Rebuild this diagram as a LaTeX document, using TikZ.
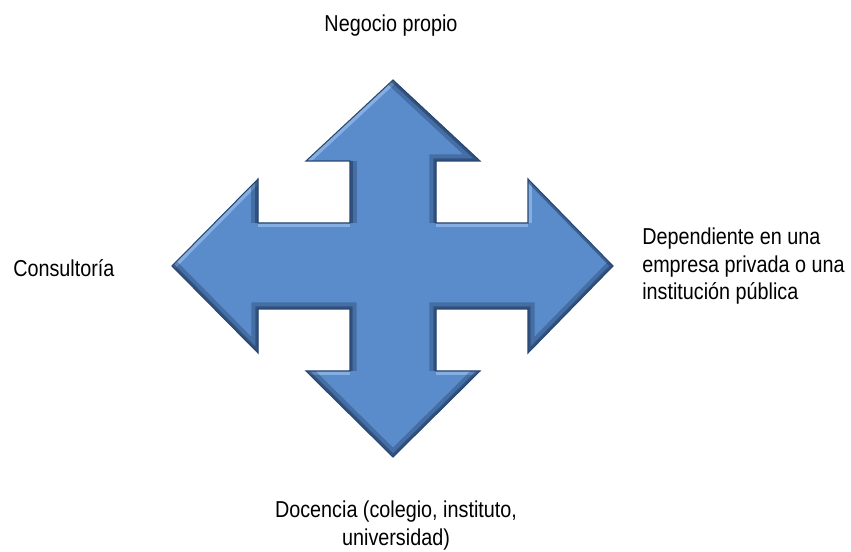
\documentclass[tikz,border=0pt]{standalone}
\usepackage{fontspec}
\setmainfont{Liberation Sans}[FakeStretch=0.86]
\usepackage{tikz}

\tikzset{
  arrowfill/.style={fill={rgb,255:red,90;green,140;blue,203}},
  bevdark/.style={draw={rgb,255:red,30;green,55;blue,95},line width=10,draw opacity=0.35,line join=miter},
  bevdeep/.style={draw={rgb,255:red,30;green,55;blue,95},line width=4,draw opacity=0.5,line join=miter},
  bevlight/.style={draw={rgb,255:red,170;green,205;blue,245},line width=6,draw opacity=0.55},
  rimline/.style={draw={rgb,255:red,40;green,70;blue,112},line width=0.8},
  labeltext/.style={inner sep=0.75pt,font=\fontsize{17.25}{20.6}\selectfont}
}

\begin{document}
\begin{tikzpicture}[x=0.75pt,y=0.75pt,yscale=-1,xscale=1]
\useasboundingbox (0,0) rectangle (851,552); %set diagram to 851 x 552

%Shape: Quad Arrow
\begin{scope}
\clip (393,80) -- (480,161) -- (436,161) -- (436,223) -- (528,223) -- (528,179) -- (613,266) -- (528,353) -- (528,309) -- (436,309) -- (436,371) -- (480,371) -- (393,457) -- (306,371) -- (350,371) -- (350,309) -- (258,309) -- (258,353) -- (172,266) -- (258,179) -- (258,223) -- (350,223) -- (350,161) -- (306,161) -- cycle ;
\fill [arrowfill] (0,0) rectangle (851,552) ;
%bevel, light side
\draw [bevlight] (306,161) -- (393,80) ;
\draw [bevlight] (172,266) -- (258,179) ;
\draw [bevlight] (258,223) -- (350,223) ;
\draw [bevlight] (436,223) -- (528,223) ;
\draw [bevlight] (528,179) -- (528,223) ;
\draw [bevlight] (306,371) -- (350,371) ;
\draw [bevlight] (436,371) -- (480,371) ;
%bevel, dark side
\draw [bevdark] (393,80) -- (480,161) -- (436,161) -- (436,223) ;
\draw [bevdark] (613,266) -- (528,353) -- (528,309) -- (436,309) -- (436,371) ;
\draw [bevdark] (480,371) -- (393,457) -- (306,371) ;
\draw [bevdark] (350,371) -- (350,309) -- (258,309) -- (258,353) -- (172,266) ;
\draw [bevdark] (258,179) -- (258,223) ;
\draw [bevdark] (350,223) -- (350,161) ;
\draw [bevdeep] (393,80) -- (480,161) -- (436,161) -- (436,223) ;
\draw [bevdeep] (528,179) -- (613,266) -- (528,353) -- (528,309) -- (436,309) -- (436,371) ;
\draw [bevdeep] (480,371) -- (393,457) -- (306,371) ;
\draw [bevdeep] (350,371) -- (350,309) -- (258,309) -- (258,353) -- (172,266) ;
\draw [bevdeep] (258,179) -- (258,223) ;
\draw [bevdeep] (350,223) -- (350,161) ;
\end{scope}
\draw [rimline] (393,80) -- (480,161) -- (436,161) -- (436,223) -- (528,223) -- (528,179) -- (613,266) -- (528,353) -- (528,309) -- (436,309) -- (436,371) -- (480,371) -- (393,457) -- (306,371) -- (350,371) -- (350,309) -- (258,309) -- (258,353) -- (172,266) -- (258,179) -- (258,223) -- (350,223) -- (350,161) -- (306,161) -- cycle ;

% Text Node
\draw (391,32) node [anchor=base][labeltext] (propio) {Negocio propio};
% Text Node
\draw (12,277) node [anchor=base west][labeltext] (consult) {Consultoría};
% Text Node
\draw (641,227) node [anchor=north west][labeltext,align=left] (depend) {Dependiente en una\\empresa privada o una\\institución pública};
% Text Node
\draw (396,500) node [anchor=north][labeltext,align=center] (docencia) {Docencia (colegio, instituto,\\universidad)};

\end{tikzpicture}
\end{document}
